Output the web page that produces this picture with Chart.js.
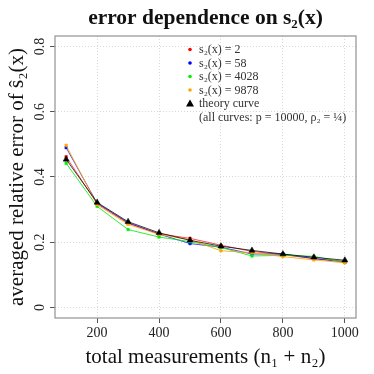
<!DOCTYPE html>
<html>
<head>
<meta charset="utf-8">
<script src="https://cdn.jsdelivr.net/npm/chart.js@4/dist/chart.umd.min.js"></script>
<style>
  html, body { margin: 0; padding: 0; background: #ffffff; }
  #wrap { width: 374px; height: 374px; }
</style>
</head>
<body>
<div id="wrap"><canvas id="c" width="374" height="374"></canvas></div>
<script>
const xValues = [100, 200, 300, 400, 500, 600, 700, 800, 900, 1000];
const red    = [0.462, 0.318, 0.258, 0.226, 0.212, 0.191, 0.172, 0.162, 0.150, 0.142];
const blue   = [0.490, 0.320, 0.260, 0.225, 0.196, 0.185, 0.164, 0.164, 0.150, 0.139];
const green  = [0.442, 0.310, 0.239, 0.216, 0.202, 0.184, 0.158, 0.160, 0.157, 0.138];
const orange = [0.497, 0.315, 0.255, 0.224, 0.208, 0.174, 0.168, 0.156, 0.146, 0.137];
const theory = [0.454, 0.322, 0.263, 0.229, 0.206, 0.188, 0.175, 0.164, 0.154, 0.145];

const xTickValues = [200, 400, 600, 800, 1000];
const xTickLabels = ['200', '400', '600', '800', '1000'];
const yTickValues = [0, 0.2, 0.4, 0.6, 0.8];
const yTickLabels = ['0', '0.2', '0.4', '0.6', '0.8'];

const seriesNames = ['s₂(x) = 2', 's₂(x) = 58', 's₂(x) = 4028', 's₂(x) = 9878', 'theory curve'];
const legendNote = '(all curves: p = 10000, ρ₂ = ¼)';
const titleText = 'error dependence on s₂(x)';
const xTitle = 'total measurements (n₁ + n₂)';
const yTitle = 'averaged relative error of ŝ₂(x)';

const colors = ['#ff0000', '#0000ff', '#00ee00', '#ffa500', '#000000'];
const lineColors = ['rgba(255,0,0,0.7)', 'rgba(0,0,255,0.7)', 'rgba(0,230,0,0.8)', 'rgba(255,165,0,0.85)', 'rgba(0,0,0,0.75)'];
const seriesData = [red, blue, green, orange, theory];

const SERIF = '"Liberation Serif", "DejaVu Serif", serif';

function pts(arr) { return arr.map((v, i) => ({x: xValues[i], y: v})); }

const datasets = seriesData.map((arr, i) => {
  const isTheory = i === 4;
  return {
    label: seriesNames[i],
    data: pts(arr),
    borderColor: lineColors[i],
    backgroundColor: colors[i],
    borderWidth: 1,
    pointStyle: isTheory ? 'triangle' : 'rect',
    pointRadius: isTheory ? 3.5 : 1.8,
    pointBorderWidth: 0.5,
    pointBorderColor: colors[i],
    fill: false,
    tension: 0,
    order: isTheory ? 0 : (5 - i)
  };
});

const decorPlugin = {
  id: 'decor',
  beforeDatasetsDraw(chart) {
    const {ctx, chartArea: a} = chart;
    ctx.save();
    ctx.strokeStyle = '#9a9a9a';
    ctx.lineWidth = 1.3;
    ctx.strokeRect(a.left, a.top, a.right - a.left, a.bottom - a.top);
    ctx.restore();
  },
  afterDraw(chart) {
    const {ctx, chartArea: a} = chart;
    ctx.save();
    ctx.fillStyle = '#111111';
    ctx.font = 'bold 21.5px ' + SERIF;
    ctx.textAlign = 'center';
    ctx.textBaseline = 'middle';
    ctx.fillText(titleText, (a.left + a.right) / 2, 18);
    const mx = 190, tx = 199, y0 = 49.5, dy = 13.5;
    ctx.font = '12px ' + SERIF;
    ctx.textAlign = 'left';
    for (let i = 0; i < 5; i++) {
      const y = y0 + i * dy;
      ctx.fillStyle = colors[i];
      if (i < 4) {
        ctx.beginPath();
        ctx.arc(mx, y, 1.8, 0, Math.PI * 2);
        ctx.fill();
      } else {
        ctx.beginPath();
        ctx.moveTo(mx, y - 4);
        ctx.lineTo(mx + 4, y + 3);
        ctx.lineTo(mx - 4, y + 3);
        ctx.closePath();
        ctx.fill();
      }
      ctx.fillStyle = '#333333';
      ctx.fillText(seriesNames[i], tx, y + 0.5);
    }
    ctx.fillStyle = '#333333';
    ctx.fillText(legendNote, tx, y0 + 5 * dy + 0.5);
    ctx.restore();
  }
};

const gridOpts = {
  color: '#d8d8d8',
  lineWidth: 1,
  drawTicks: true,
  tickLength: 5,
  tickColor: '#555555',
  tickBorderDash: []
};

new Chart(document.getElementById('c'), {
  type: 'line',
  data: { datasets },
  options: {
    responsive: false,
    animation: false,
    devicePixelRatio: 1,
    layout: { padding: { top: 36, right: 18, left: 0, bottom: 0 } },
    plugins: {
      legend: { display: false },
      title: { display: false },
      tooltip: { enabled: false }
    },
    scales: {
      x: {
        type: 'linear',
        min: 64,
        max: 1036,
        afterBuildTicks: s => { s.ticks = xTickValues.map(v => ({value: v})); },
        afterFit: s => { s.height = 56; },
        border: { display: false, dash: [1, 2] },
        grid: gridOpts,
        ticks: {
          padding: 2,
          maxRotation: 0,
          color: '#222222',
          font: { family: SERIF, size: 14 },
          callback: (v) => { const k = xTickValues.indexOf(v); return k >= 0 ? xTickLabels[k] : ''; }
        },
        title: {
          display: true,
          text: xTitle,
          color: '#111111',
          font: { family: SERIF, size: 21 },
          padding: { top: 0, bottom: 3.5 }
        }
      },
      y: {
        type: 'linear',
        min: -0.032,
        max: 0.832,
        afterBuildTicks: s => { s.ticks = yTickValues.map(v => ({value: v})); },
        afterFit: s => { s.width = 55; },
        border: { display: false, dash: [1, 2] },
        grid: gridOpts,
        ticks: {
          padding: 1,
          minRotation: 90,
          maxRotation: 90,
          crossAlign: 'center',
          color: '#222222',
          font: { family: SERIF, size: 14 },
          callback: (v) => { const k = yTickValues.indexOf(v); return k >= 0 ? yTickLabels[k] : ''; }
        },
        title: {
          display: true,
          text: yTitle,
          color: '#111111',
          font: { family: SERIF, size: 21 },
          padding: { top: 4.5, bottom: 0 }
        }
      }
    }
  },
  plugins: [decorPlugin]
});
</script>
</body>
</html>
